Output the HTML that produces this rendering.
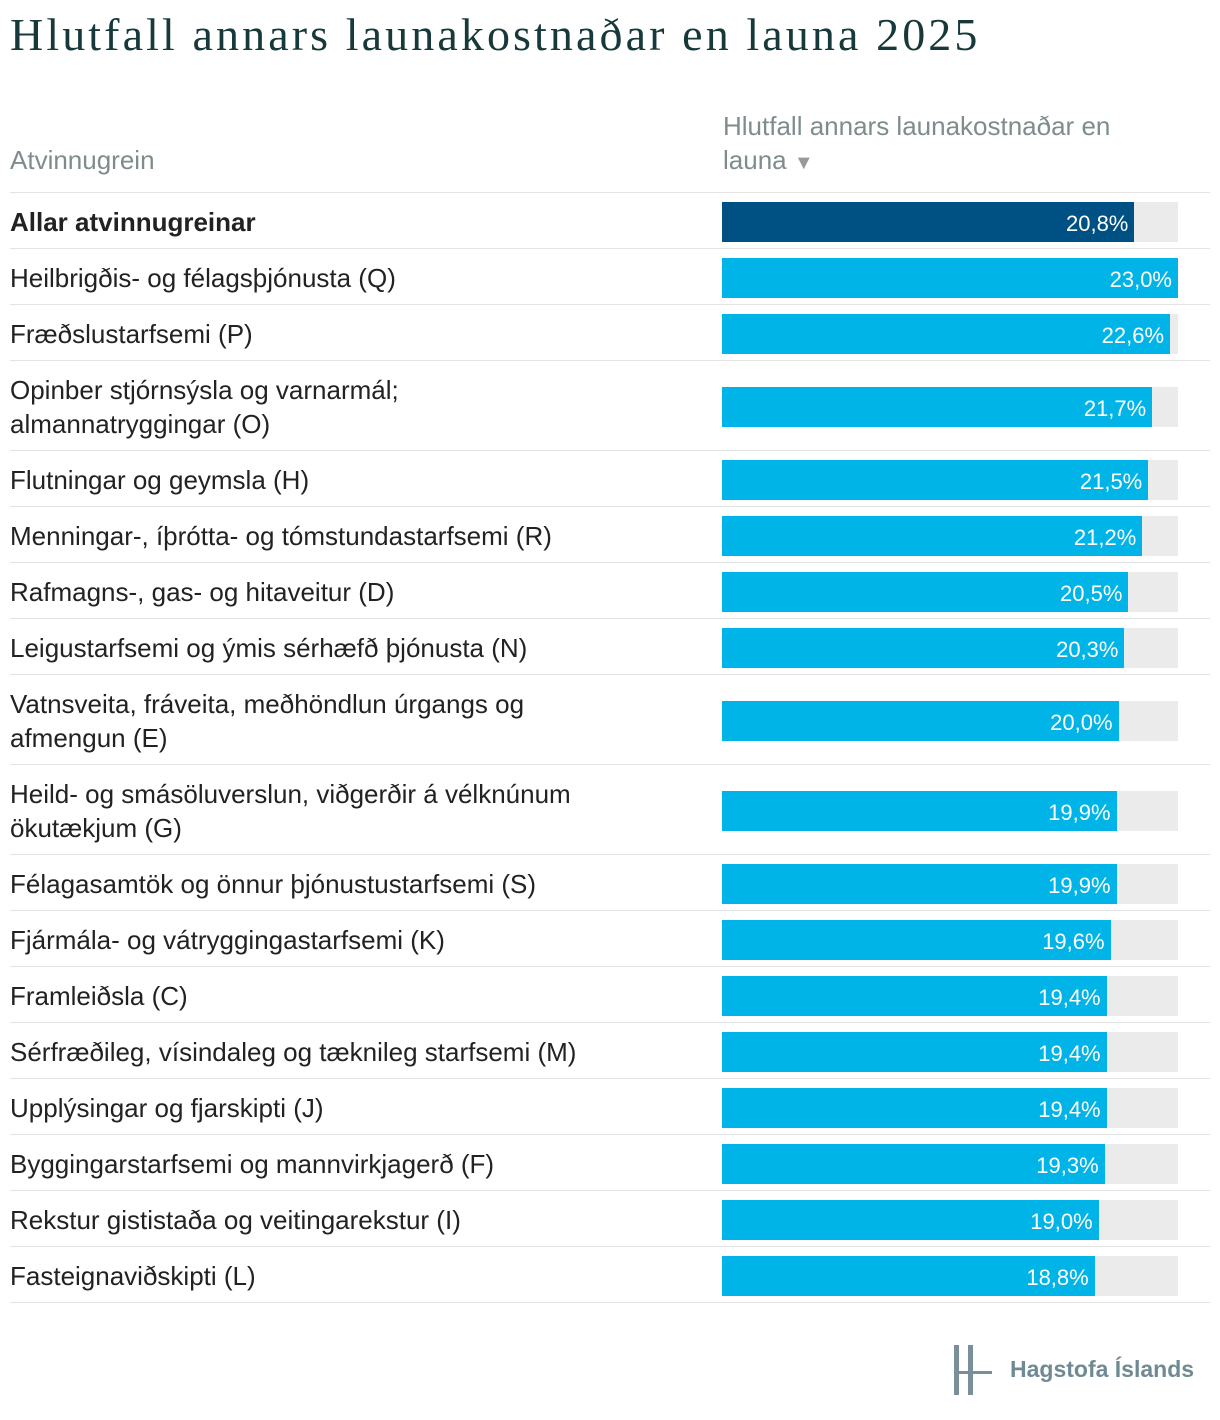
<!DOCTYPE html>
<html><head><meta charset="utf-8">
<style>
body{margin:0;width:1220px;height:1420px;background:#fff;font-family:"Liberation Sans",sans-serif;position:relative;overflow:hidden}
#title{position:absolute;left:10px;top:8px;font-family:"Liberation Serif",serif;font-size:46px;letter-spacing:3.1px;color:#17393a;white-space:nowrap}
.hdr{position:absolute;color:#7f8c8d;font-size:26px;line-height:34px}
#rows{position:absolute;left:0;top:0}
.row{position:absolute;left:10px;width:1200px;border-bottom:1px solid #e3e3e3}
.lab{position:absolute;left:0;font-size:26px;line-height:34px;color:#222;width:590px}
.track{position:absolute;left:712px;width:456px;height:40px;background:#ebebeb}
.bar{position:absolute;left:0;top:0;height:40px;background:#00b4e8}
.val{position:absolute;right:6px;top:0;line-height:44px;font-size:22px;color:#fff}
</style></head><body>
<div id="title">Hlutfall annars launakostnaðar en launa 2025</div>
<div class="hdr" style="left:10px;top:143px">Atvinnugrein</div>
<div class="hdr" style="left:723px;top:109px;width:440px">Hlutfall annars launakostnaðar en launa <span style="font-size:20px;color:#999">▼</span></div>
<div style="position:absolute;left:10px;top:192px;width:1200px;border-top:1px solid #e3e3e3"></div>
<div id="rows"></div>
<div style="position:absolute;left:950px;top:1340px;width:260px;height:60px">
<div style="position:absolute;left:4px;top:5px;width:5px;height:50px;background:#7a9098"></div>
<div style="position:absolute;left:18px;top:5px;width:5px;height:50px;background:#7a9098"></div>
<div style="position:absolute;left:4px;top:31px;width:38px;height:3px;background:#7a9098"></div>
<div style="position:absolute;left:60px;top:16px;font-size:23px;font-weight:bold;color:#6f8a92;white-space:nowrap">Hagstofa Íslands</div>
</div>
<script>
const categories=["Allar atvinnugreinar","Heilbrigðis- og félagsþjónusta (Q)","Fræðslustarfsemi (P)","Opinber stjórnsýsla og varnarmál; almannatryggingar (O)","Flutningar og geymsla (H)","Menningar-, íþrótta- og tómstundastarfsemi (R)","Rafmagns-, gas- og hitaveitur (D)","Leigustarfsemi og ýmis sérhæfð þjónusta (N)","Vatnsveita, fráveita, meðhöndlun úrgangs og afmengun (E)","Heild- og smásöluverslun, viðgerðir á vélknúnum ökutækjum (G)","Félagasamtök og önnur þjónustustarfsemi (S)","Fjármála- og vátryggingastarfsemi (K)","Framleiðsla (C)","Sérfræðileg, vísindaleg og tæknileg starfsemi (M)","Upplýsingar og fjarskipti (J)","Byggingarstarfsemi og mannvirkjagerð (F)","Rekstur gististaða og veitingarekstur (I)","Fasteignaviðskipti (L)"];
const values=[20.8,23.0,22.6,21.7,21.5,21.2,20.5,20.3,20.0,19.9,19.9,19.6,19.4,19.4,19.4,19.3,19.0,18.8];
const twoLine=[false,false,false,true,false,false,false,false,true,true,false,false,false,false,false,false,false,false];
const maxV=Math.max(...values);
const x=v=>v/maxV*456;
const rows=document.getElementById('rows');
let y=193;
categories.forEach((c,i)=>{
  const h=twoLine[i]?90:56;
  const r=document.createElement('div');r.className='row';
  
  
  r.style.top=y+'px';r.style.height=(h-1)+'px';
  const l=document.createElement('div');l.className='lab';
  
  
  l.style.top='12px';
  if(i===0)l.style.fontWeight='bold';
  l.textContent=c;r.appendChild(l);
  const t=document.createElement('div');t.className='track';
  
  
  t.style.top=((h-40)/2+1)+'px';
  const b=document.createElement('div');b.className='bar';
  
  
  b.style.width=x(values[i])+'px';
  if(i===0)b.style.background='#005183';
  const v=document.createElement('div');v.className='val';
  
  
  v.textContent=values[i].toFixed(1).replace('.',',')+'%';
  b.appendChild(v);t.appendChild(b);r.appendChild(t);
  rows.appendChild(r);
  y+=h;
});
</script>
</body></html>
